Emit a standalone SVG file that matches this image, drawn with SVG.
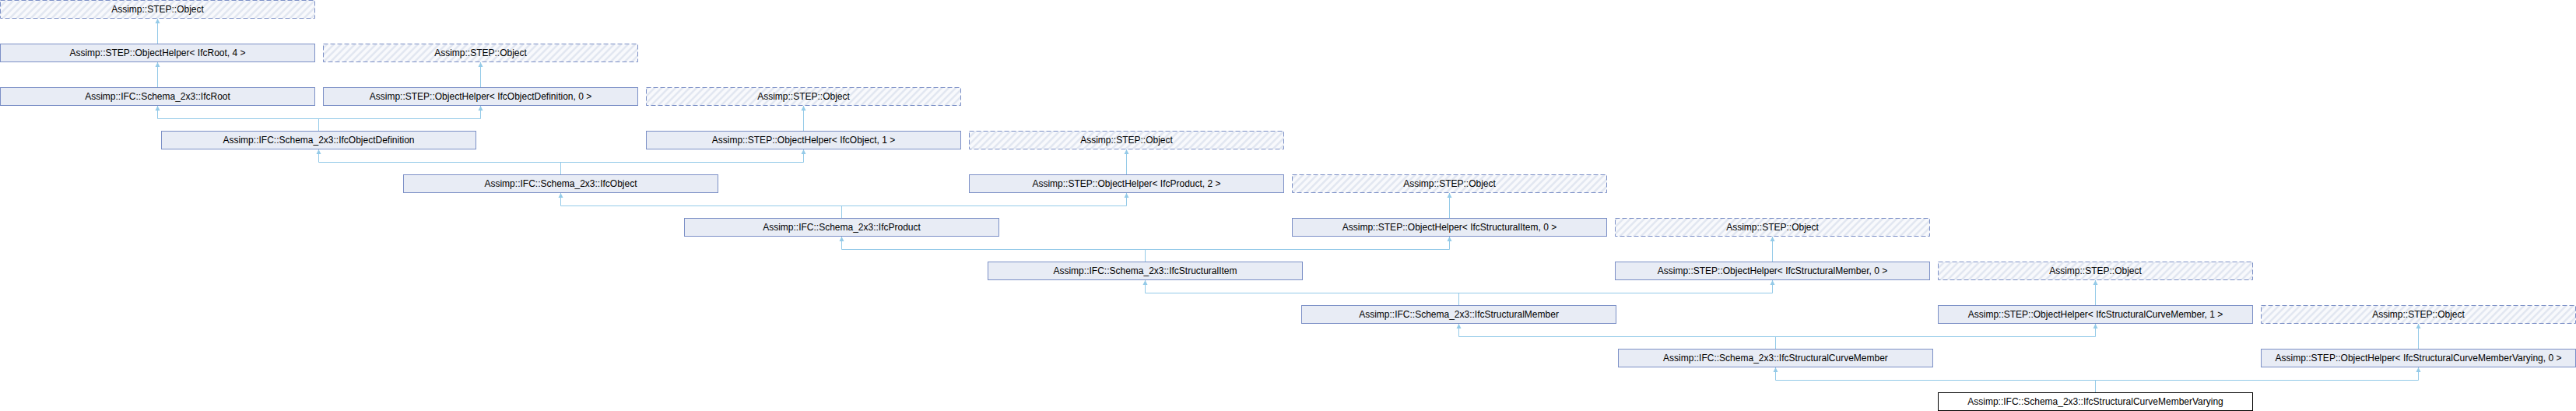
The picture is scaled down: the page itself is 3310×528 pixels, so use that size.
<svg xmlns="http://www.w3.org/2000/svg" width="3310" height="528" viewBox="0 0 3310 528">
<style>
.box{fill:#E8ECF5;stroke:#7B8FC6;stroke-width:1}
.ext{fill:url(#hatch);stroke:#7B8FC6;stroke-width:1;stroke-dasharray:6,3}
.cur{fill:#FFFFFF;stroke:#000000;stroke-width:1}
.lbl{font-family:"Liberation Sans",Arial,sans-serif;font-size:12px;fill:#000000;text-anchor:middle}
.conn path{fill:none;stroke:#94CAE8;stroke-width:1}
.conn path.up{marker-start:url(#arr)}
</style>
<defs>
<pattern id="hatch" patternUnits="userSpaceOnUse" width="9" height="9">
<rect width="9" height="9" fill="#F8F9FC"/>
<path d="M-2,2 L2,-2 M0,9 L9,0 M7,11 L11,7" stroke="#E2E7F1" stroke-width="2.6"/>
</pattern>
<marker id="arr" markerUnits="userSpaceOnUse" viewBox="-7 -4 8 8" refX="0" refY="0" markerWidth="8" markerHeight="8" orient="auto-start-reverse">
<path d="M0,0 L-6,-3 L-6,3 z" fill="#94CAE8"/>
</marker>
</defs>

<g id="connectors" class="conn">
<path class="up" d="M202.5,24 V56"/>
<path class="up" d="M202.5,80 V112"/>
<path class="up" d="M617.5,80 V112"/>
<path class="up" d="M1032.5,136 V168"/>
<path class="up" d="M1447.5,192 V224"/>
<path class="up" d="M1862.5,248 V280"/>
<path class="up" d="M2277.5,304 V336"/>
<path class="up" d="M2692.5,360 V392"/>
<path class="up" d="M3107.5,416 V448"/>

<path class="up" d="M202.5,136 V152.5"/>
<path class="up" d="M617.5,136 V152.5"/>
<path d="M202.5,152.5 H617.5 M409.5,152.5 V168"/>

<path class="up" d="M409.5,192 V208.5"/>
<path class="up" d="M1032.5,192 V208.5"/>
<path d="M409.5,208.5 H1032.5 M720.5,208.5 V224"/>

<path class="up" d="M720.5,248 V264.5"/>
<path class="up" d="M1447.5,248 V264.5"/>
<path d="M720.5,264.5 H1447.5 M1081.5,264.5 V280"/>

<path class="up" d="M1081.5,304 V320.5"/>
<path class="up" d="M1862.5,304 V320.5"/>
<path d="M1081.5,320.5 H1862.5 M1471.5,320.5 V336"/>

<path class="up" d="M1471.5,360 V376.5"/>
<path class="up" d="M2277.5,360 V376.5"/>
<path d="M1471.5,376.5 H2277.5 M1874.5,376.5 V392"/>

<path class="up" d="M1874.5,416 V432.5"/>
<path class="up" d="M2692.5,416 V432.5"/>
<path d="M1874.5,432.5 H2692.5 M2281.5,432.5 V448"/>

<path class="up" d="M2281.5,472 V488.5"/>
<path class="up" d="M3107.5,472 V488.5"/>
<path d="M2281.5,488.5 H3107.5 M2692.5,488.5 V504"/>
</g>

<g id="obj_r0"><rect class="ext" x="0.5" y="0.5" width="404" height="23"/><text class="lbl" x="202.5" y="15.5">Assimp::STEP::Object</text></g>

<g id="oh_ifcroot"><rect class="box" x="0.5" y="56.5" width="404" height="23"/><text class="lbl" x="202.5" y="71.5">Assimp::STEP::ObjectHelper&lt; IfcRoot, 4 &gt;</text></g>
<g id="obj_r1"><rect class="ext" x="415.5" y="56.5" width="404" height="23"/><text class="lbl" x="617.5" y="71.5">Assimp::STEP::Object</text></g>

<g id="ifcroot"><rect class="box" x="0.5" y="112.5" width="404" height="23"/><text class="lbl" x="202.5" y="127.5">Assimp::IFC::Schema_2x3::IfcRoot</text></g>
<g id="oh_ifcobjectdefinition"><rect class="box" x="415.5" y="112.5" width="404" height="23"/><text class="lbl" x="617.5" y="127.5">Assimp::STEP::ObjectHelper&lt; IfcObjectDefinition, 0 &gt;</text></g>
<g id="obj_r2"><rect class="ext" x="830.5" y="112.5" width="404" height="23"/><text class="lbl" x="1032.5" y="127.5">Assimp::STEP::Object</text></g>

<g id="ifcobjectdefinition"><rect class="box" x="207.5" y="168.5" width="404" height="23"/><text class="lbl" x="409.5" y="183.5">Assimp::IFC::Schema_2x3::IfcObjectDefinition</text></g>
<g id="oh_ifcobject"><rect class="box" x="830.5" y="168.5" width="404" height="23"/><text class="lbl" x="1032.5" y="183.5">Assimp::STEP::ObjectHelper&lt; IfcObject, 1 &gt;</text></g>
<g id="obj_r3"><rect class="ext" x="1245.5" y="168.5" width="404" height="23"/><text class="lbl" x="1447.5" y="183.5">Assimp::STEP::Object</text></g>

<g id="ifcobject"><rect class="box" x="518.5" y="224.5" width="404" height="23"/><text class="lbl" x="720.5" y="239.5">Assimp::IFC::Schema_2x3::IfcObject</text></g>
<g id="oh_ifcproduct"><rect class="box" x="1245.5" y="224.5" width="404" height="23"/><text class="lbl" x="1447.5" y="239.5">Assimp::STEP::ObjectHelper&lt; IfcProduct, 2 &gt;</text></g>
<g id="obj_r4"><rect class="ext" x="1660.5" y="224.5" width="404" height="23"/><text class="lbl" x="1862.5" y="239.5">Assimp::STEP::Object</text></g>

<g id="ifcproduct"><rect class="box" x="879.5" y="280.5" width="404" height="23"/><text class="lbl" x="1081.5" y="295.5">Assimp::IFC::Schema_2x3::IfcProduct</text></g>
<g id="oh_ifcstructuralitem"><rect class="box" x="1660.5" y="280.5" width="404" height="23"/><text class="lbl" x="1862.5" y="295.5">Assimp::STEP::ObjectHelper&lt; IfcStructuralItem, 0 &gt;</text></g>
<g id="obj_r5"><rect class="ext" x="2075.5" y="280.5" width="404" height="23"/><text class="lbl" x="2277.5" y="295.5">Assimp::STEP::Object</text></g>

<g id="ifcstructuralitem"><rect class="box" x="1269.5" y="336.5" width="404" height="23"/><text class="lbl" x="1471.5" y="351.5">Assimp::IFC::Schema_2x3::IfcStructuralItem</text></g>
<g id="oh_ifcstructuralmember"><rect class="box" x="2075.5" y="336.5" width="404" height="23"/><text class="lbl" x="2277.5" y="351.5">Assimp::STEP::ObjectHelper&lt; IfcStructuralMember, 0 &gt;</text></g>
<g id="obj_r6"><rect class="ext" x="2490.5" y="336.5" width="404" height="23"/><text class="lbl" x="2692.5" y="351.5">Assimp::STEP::Object</text></g>

<g id="ifcstructuralmember"><rect class="box" x="1672.5" y="392.5" width="404" height="23"/><text class="lbl" x="1874.5" y="407.5">Assimp::IFC::Schema_2x3::IfcStructuralMember</text></g>
<g id="oh_ifcstructuralcurvemember"><rect class="box" x="2490.5" y="392.5" width="404" height="23"/><text class="lbl" x="2692.5" y="407.5">Assimp::STEP::ObjectHelper&lt; IfcStructuralCurveMember, 1 &gt;</text></g>
<g id="obj_r7"><rect class="ext" x="2905.5" y="392.5" width="404" height="23"/><text class="lbl" x="3107.5" y="407.5">Assimp::STEP::Object</text></g>

<g id="ifcstructuralcurvemember"><rect class="box" x="2079.5" y="448.5" width="404" height="23"/><text class="lbl" x="2281.5" y="463.5">Assimp::IFC::Schema_2x3::IfcStructuralCurveMember</text></g>
<g id="oh_ifcstructuralcurvemembervarying"><rect class="box" x="2905.5" y="448.5" width="404" height="23"/><text class="lbl" x="3107.5" y="463.5">Assimp::STEP::ObjectHelper&lt; IfcStructuralCurveMemberVarying, 0 &gt;</text></g>

<g id="ifcstructuralcurvemembervarying"><rect class="cur" x="2490.5" y="504.5" width="404" height="23"/><text class="lbl" x="2692.5" y="519.5">Assimp::IFC::Schema_2x3::IfcStructuralCurveMemberVarying</text></g>
</svg>
